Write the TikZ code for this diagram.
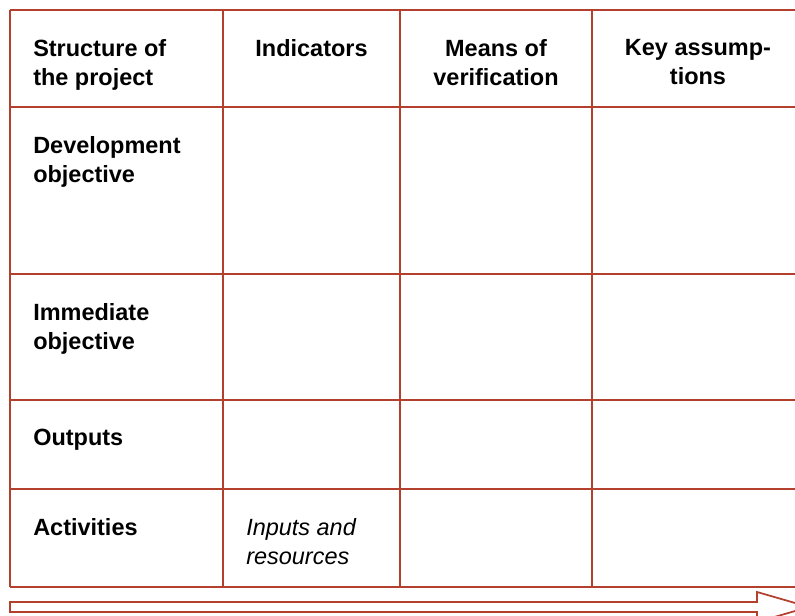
\documentclass[tikz,border=0pt]{standalone}
\usepackage{fontspec}
\setmainfont{Liberation Sans}
\usepackage{tikz}
\usetikzlibrary{positioning}
\definecolor{frameRed}{RGB}{178,64,44}

\begin{document}
\begin{tikzpicture}[x=0.75pt, y=-0.75pt,
	grid_line/.style={draw=frameRed, line width=1.1pt},
	head_node/.style={anchor=north, align=center, inner sep=0pt, font=\fontsize{17.6}{21.75}\selectfont\bfseries},
	row_node/.style={anchor=north west, align=left, inner sep=0pt, font=\fontsize{17.6}{21.75}\selectfont\bfseries}]
			
			\useasboundingbox (0,0) rectangle (795,616);
			\clip (0,0) rectangle (795,616);
			
			% table lines
			\foreach \y in {10,107,274,400,489,587}
			\draw[grid_line] (10,\y) -- (804,\y);
			\foreach \x in {10,223,400,592,804}
			\draw[grid_line] (\x,10) -- (\x,587);
			
			% header
			\node[row_node] (h1) at (33,39) {Structure of\\the project};
			\node[head_node] (h2) at (311.5,39) {Indicators};
			\node[head_node] (h3) at (496,39) {Means of\\verification};
			\node[head_node] (h4) at (698,39) {Key assump-\\tions};
			
			% rows
			\node[row_node] (r1) at (33,136) {Development\\objective};
			\node[row_node] (r2) at (33,303) {Immediate\\objective};
			\node[row_node] (r3) at (33,429) {Outputs};
			\node[row_node] (r4) at (33,518) {Activities};
			\node[row_node, font=\fontsize{17.6}{21.75}\selectfont\itshape] (r4b) at (246,518) {Inputs and\\resources};
			
			% time arrow
			\draw[grid_line, line width=1.3pt] (10,602) -- (757,602) -- (757,592) -- (809,607) -- (757,622) -- (757,612) -- (10,612) -- cycle;
		\end{tikzpicture}
\end{document}
